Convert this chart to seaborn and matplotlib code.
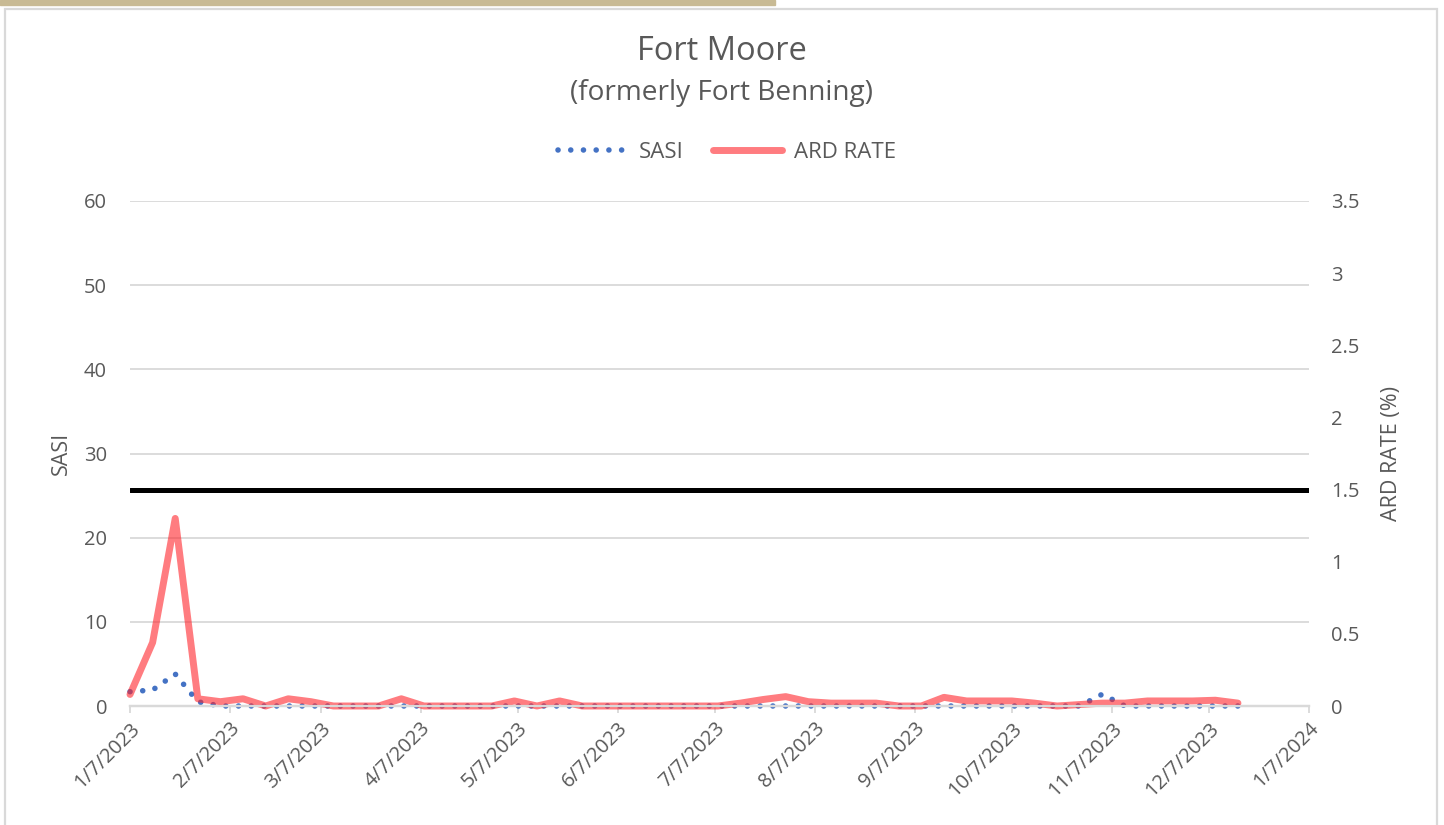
import pandas as pd
import matplotlib
matplotlib.use("Agg")
import matplotlib.pyplot as plt
from matplotlib.patches import Rectangle
import seaborn as sns

# Weekly observations (Saturdays), 1/7/2023 .. 12/16/2023
week_start = "2023-01-07"
n_weeks = 50

sasi = [1.7, 1.9, 3.8, 0.5, 0, 0, 0, 0, 0, 0,
        0, 0, 0, 0, 0, 0, 0, 0, 0, 0,
        0, 0, 0, 0, 0, 0, 0, 0, 0, 0,
        0, 0, 0, 0, 0, 0, 0, 0, 0, 0,
        0, 0, 0, 1.4, 0, 0, 0, 0, 0, 0]

ard_rate = [0.08, 0.44, 1.30, 0.05, 0.03, 0.05, 0.0, 0.05, 0.03, 0.0,
            0.0, 0.0, 0.05, 0.0, 0.0, 0.0, 0.0, 0.035, 0.0, 0.035,
            0.0, 0.0, 0.0, 0.0, 0.0, 0.0, 0.0, 0.02, 0.045, 0.065,
            0.03, 0.02, 0.02, 0.02, 0.0, 0.0, 0.06, 0.035, 0.035, 0.035,
            0.02, 0.0, 0.01, 0.02, 0.02, 0.035, 0.035, 0.035, 0.04, 0.02]

ard_threshold = 1.5

left_ticks = [0, 10, 20, 30, 40, 50, 60]
right_ticks = [0, 0.5, 1, 1.5, 2, 2.5, 3, 3.5]

df = pd.DataFrame({
    "Week": pd.date_range(week_start, periods=n_weeks, freq="7D"),
    "SASI": sasi,
    "ARD RATE": ard_rate,
})

sns.set_theme(style="white")
plt.rcParams["font.family"] = ["Open Sans", "DejaVu Sans"]
text_col = "#595959"
grid_col = "#D9D9D9"

fig = plt.figure(figsize=(14.44, 8.25), dpi=100)

# page decoration: tan strip and chart border
fig.patches.append(Rectangle((0, 1 - 5 / 825), 775 / 1444, 5 / 825,
                             transform=fig.transFigure, color="#C8BA94", zorder=0))
fig.patches.append(Rectangle((5 / 1444, -0.05), 1432 / 1444, 1.05 - 9 / 825,
                             transform=fig.transFigure, fill=False,
                             edgecolor=grid_col, linewidth=1.6, zorder=0))

ax = fig.add_axes([130 / 1444, 1 - 706 / 825, 1179 / 1444, 505 / 825])
ax2 = ax.twinx()

sns.lineplot(data=df, x="Week", y="SASI", ax=ax, color="#4472C4",
             linewidth=4.0, label="SASI", legend=False, clip_on=False)
sns.lineplot(data=df, x="Week", y="ARD RATE", ax=ax2, color="#FF252B",
             alpha=0.6, linewidth=5, label="ARD RATE", legend=False,
             clip_on=False)
sasi_line = ax.get_lines()[0]
sasi_line.set_linestyle((0, (0.01, 2.28)))
sasi_line.set_dash_capstyle("round")
ard_line = ax2.get_lines()[0]
ard_line.set_solid_capstyle("round")
ard_line.set_solid_joinstyle("round")
ax2.axhline(ard_threshold, color="black", linewidth=3.6, zorder=3)

# axes limits and ticks
ax.set_ylim(0, 60)
ax2.set_ylim(0, 3.5)
ax.set_yticks(left_ticks)
ax2.set_yticks(right_ticks)
ax2.set_yticklabels([f"{t:g}" for t in right_ticks], ha="left")
ax.set_xlim(pd.Timestamp("2023-01-07"), pd.Timestamp("2024-01-07"))
xticks = pd.date_range("2023-01-01", "2024-01-01", freq="MS") + pd.Timedelta(days=6)
ax.set_xticks(xticks)
ax.set_xticklabels([f"{d.month}/{d.day}/{d.year}" for d in xticks],
                   rotation=45, ha="right", rotation_mode="anchor")

ax.yaxis.grid(True, color=grid_col, linewidth=1.3)
ax.set_axisbelow(True)
for a in (ax, ax2):
    for s in ("top", "left", "right"):
        a.spines[s].set_visible(False)
    a.spines["bottom"].set_color(grid_col)
    a.spines["bottom"].set_linewidth(1.6)
ax.tick_params(axis="x", colors=grid_col, labelcolor=text_col, direction="out",
               length=5, width=1.3, labelsize=14.5, pad=4, bottom=True)
ax.tick_params(axis="y", length=0, labelcolor=text_col, labelsize=14.5, pad=16.5)
ax2.tick_params(axis="y", length=0, labelcolor=text_col, labelsize=14.5, pad=16)

ax.set_xlabel("")
ax.set_ylabel("SASI", color=text_col, fontsize=15.5, labelpad=9)
ax2.set_ylabel("ARD RATE (%)", color=text_col, fontsize=15.5, labelpad=15)

fig.text(0.5, 1 - 52 / 825, "Fort Moore", ha="center", va="center",
         fontsize=23.5, color=text_col)
fig.text(0.5, 1 - 93 / 825, "(formerly Fort Benning)", ha="center", va="center",
         fontsize=20.2, color=text_col)

handles = ax.get_lines()[:1] + ax2.get_lines()[:1]
fig.legend(handles, ["SASI", "ARD RATE"], loc="center",
           bbox_to_anchor=(727 / 1444, 1 - 152 / 825), ncol=2, frameon=False,
           fontsize=16, labelcolor=text_col, handlelength=3.1,
           columnspacing=1.3, handletextpad=0.55)

fig.savefig("out.png", dpi=100)
